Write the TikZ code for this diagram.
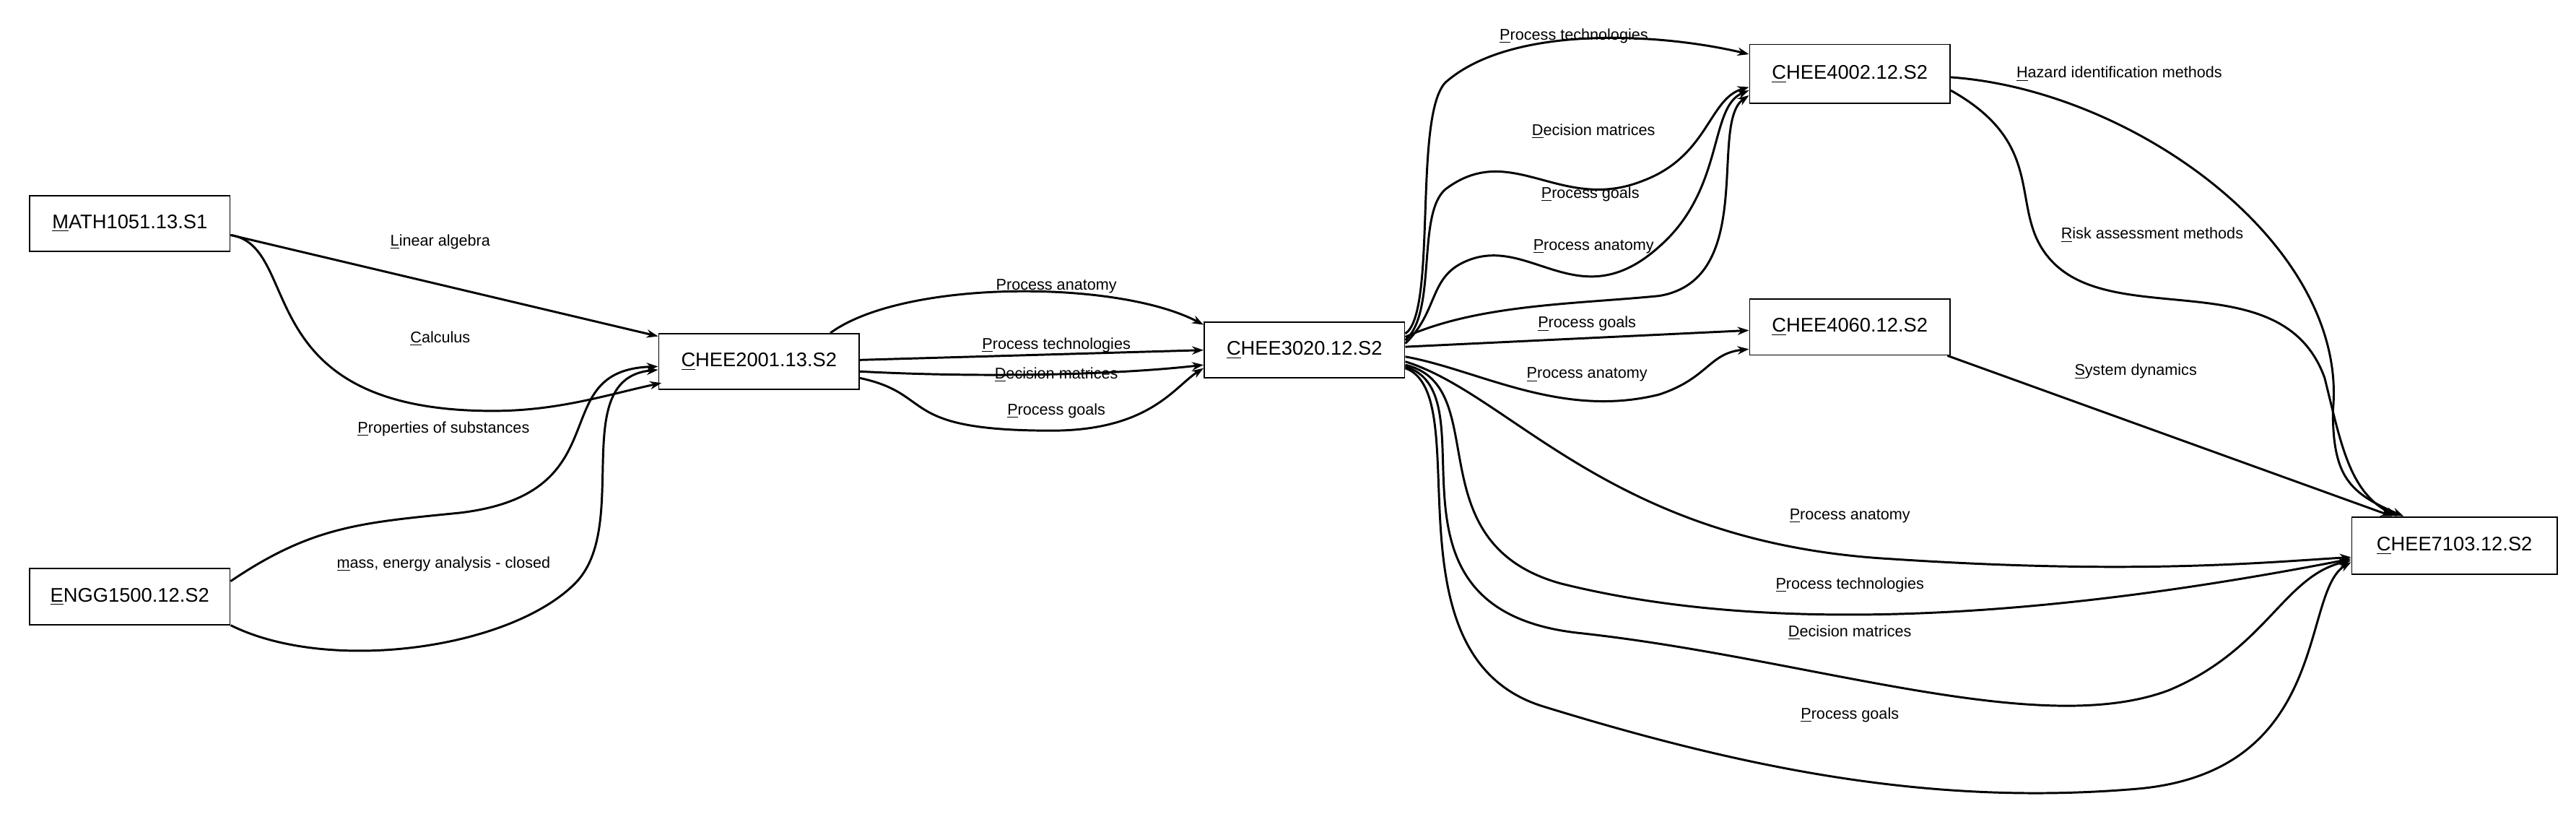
\documentclass[tikz,border=0pt]{standalone}
\usepackage{fontspec}
\setmainfont{Liberation Sans}
\usetikzlibrary{arrows.meta,calc}
\begin{document}
\begin{tikzpicture}[x=1pt,y=-1pt,
  box/.style={draw,line width=0.8pt,minimum width=122pt,minimum height=34pt,inner sep=2pt,font=\fontsize{12}{14}\selectfont},
  e/.style={line width=1.3pt,-{Stealth[length=7pt,width=5pt]}},
  lbl/.style={font=\fontsize{9.5}{11}\selectfont,inner sep=1pt}]
\useasboundingbox (0,0) rectangle (1568,508);
\node[box] (m) at (79,136) {\underline{M}ATH1051.13.S1};
\node[box] (g) at (79,363) {\underline{E}NGG1500.12.S2};
\node[box] (c2) at (462,220) {\underline{C}HEE2001.13.S2};
\node[box] (c3) at (794,213) {\underline{C}HEE3020.12.S2};
\node[box,minimum height=36pt] (c42) at (1126,45) {\underline{C}HEE4002.12.S2};
\node[box] (c46) at (1126,199) {\underline{C}HEE4060.12.S2};
\node[box,minimum width=125pt,minimum height=35pt] (c7) at (1494,332) {\underline{C}HEE7103.12.S2};
% MATH -> CHEE2001
\draw[e] ($(m.east)+(0,7)$) -- ($(c2.north west)+(0,2)$) node[lbl] at (268,147) {\underline{L}inear algebra};
\draw[e] ($(m.east)+(0,7)$) .. controls (185,150) and (150,250) .. (300,250) .. controls (340,250) and (370,240) .. ($(c2.west)+(2,13)$) node[lbl] at (268,206) {\underline{C}alculus};
% ENGG -> CHEE2001
\draw[e] ($(g.north east)+(0,8)$) .. controls (190,320) and (220,318) .. (280,312) .. controls (380,300) and (330,225) .. ($(c2.west)+(0,3)$) node[lbl] at (270,261) {\underline{P}roperties of substances};
\draw[e] (g.south east) .. controls (200,410) and (310,395) .. (350,355) .. controls (385,320) and (345,230) .. ($(c2.west)+(0,5)$) node[lbl] at (270,343) {\underline{m}ass, energy analysis - closed};
% CHEE2001 -> CHEE3020
\draw[e] ($(c2.north east)+(-18,0)$) .. controls (550,170) and (680,170) .. ($(c3.north west)+(0,2)$) node[lbl] at (643,174) {\underline{P}rocess anatomy};
\draw[e] ($(c2.east)+(0,-1)$) -- ($(c3.west)+(0,0)$) node[lbl] at (643,210) {\underline{P}rocess technologies};
\draw[e] ($(c2.east)+(0,6)$) .. controls (600,230) and (680,228) .. ($(c3.west)+(0,9)$) node[lbl] at (643,228) {\underline{D}ecision matrices};
\draw[e] ($(c2.east)+(0,10)$) .. controls (570,240) and (545,262) .. (640,262) .. controls (700,262) and (715,235) .. ($(c3.west)+(0,11)$) node[lbl] at (643,250) {\underline{P}rocess goals};
% CHEE3020 -> CHEE4002
\draw[e] ($(c3.east)+(0,-10)$) .. controls (875,190) and (860,70) .. (880,50) .. controls (920,15) and (1010,20) .. ($(c42.west)+(0,-12)$) node[lbl] at (958,22) {\underline{P}rocess technologies};
\draw[e] ($(c3.east)+(0,-6)$) .. controls (875,190) and (862,130) .. (880,115) .. controls (920,85) and (950,130) .. (1000,110) .. controls (1040,95) and (1040,60) .. ($(c42.west)+(0,8)$) node[lbl] at (970,80) {\underline{D}ecision matrices};
\draw[e] ($(c3.east)+(0,-4)$) .. controls (875,190) and (870,170) .. (890,160) .. controls (930,140) and (960,195) .. (1010,150) .. controls (1050,115) and (1040,65) .. ($(c42.west)+(0,10)$) node[lbl] at (968,118) {\underline{P}rocess goals};
\draw[e] ($(c3.east)+(0,-8)$) .. controls (900,185) and (960,185) .. (1010,180) .. controls (1070,170) and (1040,75) .. ($(c42.west)+(0,13)$) node[lbl] at (970,150) {\underline{P}rocess anatomy};
% CHEE3020 -> CHEE4060
\draw[e] ($(c3.east)+(0,-2)$) -- ($(c46.west)+(0,2)$) node[lbl] at (966,197) {\underline{P}rocess goals};
\draw[e] ($(c3.east)+(0,4)$) .. controls (900,225) and (950,255) .. (1010,240) .. controls (1040,230) and (1040,215) .. ($(c46.south west)+(0,-4)$) node[lbl] at (966,228) {\underline{P}rocess anatomy};
% CHEE3020 -> CHEE7103
\draw[e] ($(c3.east)+(0,7)$) .. controls (920,240) and (980,330) .. (1150,340) .. controls (1300,350) and (1380,342) .. ($(c7.west)+(0,7)$) node[lbl] at (1126,314) {\underline{P}rocess anatomy};
\draw[e] ($(c3.east)+(0,9)$) .. controls (910,235) and (860,330) .. (950,355) .. controls (1050,380) and (1200,385) .. ($(c7.west)+(0,8)$) node[lbl] at (1126,356) {\underline{P}rocess technologies};
\draw[e] ($(c3.east)+(0,10)$) .. controls (910,240) and (830,370) .. (960,385) .. controls (1100,400) and (1240,450) .. (1320,420) .. controls (1380,395) and (1390,350) .. ($(c7.west)+(0,9)$) node[lbl] at (1126,385) {\underline{D}ecision matrices};
\draw[e] ($(c3.east)+(0,11)$) .. controls (900,240) and (840,400) .. (940,430) .. controls (1070,470) and (1180,490) .. (1300,480) .. controls (1420,470) and (1400,360) .. ($(c7.west)+(0,10)$) node[lbl] at (1126,435) {\underline{P}rocess goals};
% CHEE4002 -> CHEE7103
\draw[e] ($(c42.east)+(0,2)$) .. controls (1300,55) and (1430,150) .. (1420,250) .. controls (1420,290) and (1430,300) .. ($(c7.north west)+(32,0)$) node[lbl] at (1290,45) {\underline{H}azard identification methods};
\draw[e] ($(c42.east)+(0,10)$) .. controls (1250,90) and (1220,130) .. (1250,160) .. controls (1290,200) and (1390,160) .. (1415,230) .. controls (1425,270) and (1430,300) .. ($(c7.north west)+(28,0)$) node[lbl] at (1310,143) {\underline{R}isk assessment methods};
% CHEE4060 -> CHEE7103
\draw[e] ($(c46.south east)+(-2,0)$) -- ($(c7.north west)+(25,0)$) node[lbl] at (1300,226) {\underline{S}ystem dynamics};
\end{tikzpicture}
\end{document}
